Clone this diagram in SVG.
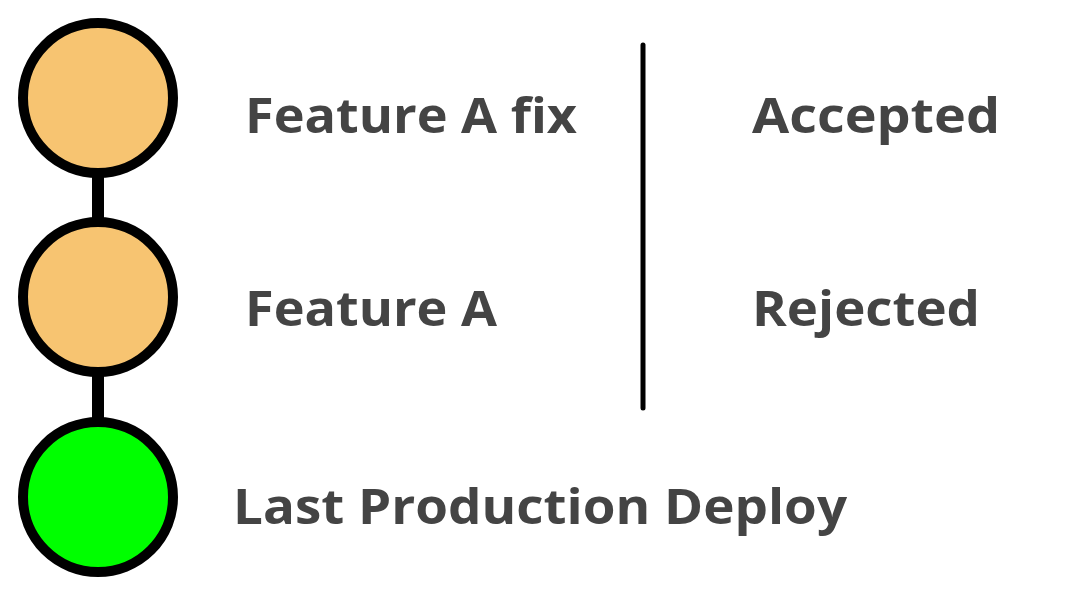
<svg xmlns="http://www.w3.org/2000/svg" width="1067" height="593" viewBox="0 0 1067 593">
<style>
.n{stroke:#000;stroke-width:10}
.t{font-family:"Open Sans","Liberation Sans",sans-serif;font-weight:bold;font-size:48px;fill:#444}
</style>
<rect width="1067" height="593" fill="#fff"/>
<g id="connectors" stroke="#000">
<line x1="98" y1="175" x2="98" y2="220" stroke-width="12"/>
<line x1="98" y1="374" x2="98" y2="420" stroke-width="12"/>
<line x1="643" y1="45" x2="643" y2="408" stroke-width="5" stroke-linecap="round"/>
</g>
<g id="n1"><circle class="n" cx="98" cy="98" r="75" fill="#f7c471"/><text class="t" x="245" y="133" textLength="332" lengthAdjust="spacingAndGlyphs">Feature A fix</text></g>
<g id="n2"><circle class="n" cx="98" cy="297" r="75" fill="#f7c471"/><text class="t" x="245" y="326" textLength="252" lengthAdjust="spacingAndGlyphs">Feature A</text></g>
<g id="n3"><circle class="n" cx="98" cy="497" r="75" fill="#00ff00"/><text class="t" x="233" y="524" textLength="614" lengthAdjust="spacingAndGlyphs">Last Production Deploy</text></g>
<g id="accepted"><text class="t" x="752" y="133" textLength="248" lengthAdjust="spacingAndGlyphs">Accepted</text></g>
<g id="rejected"><text class="t" x="752" y="326" textLength="228" lengthAdjust="spacingAndGlyphs">Rejected</text></g>
</svg>
